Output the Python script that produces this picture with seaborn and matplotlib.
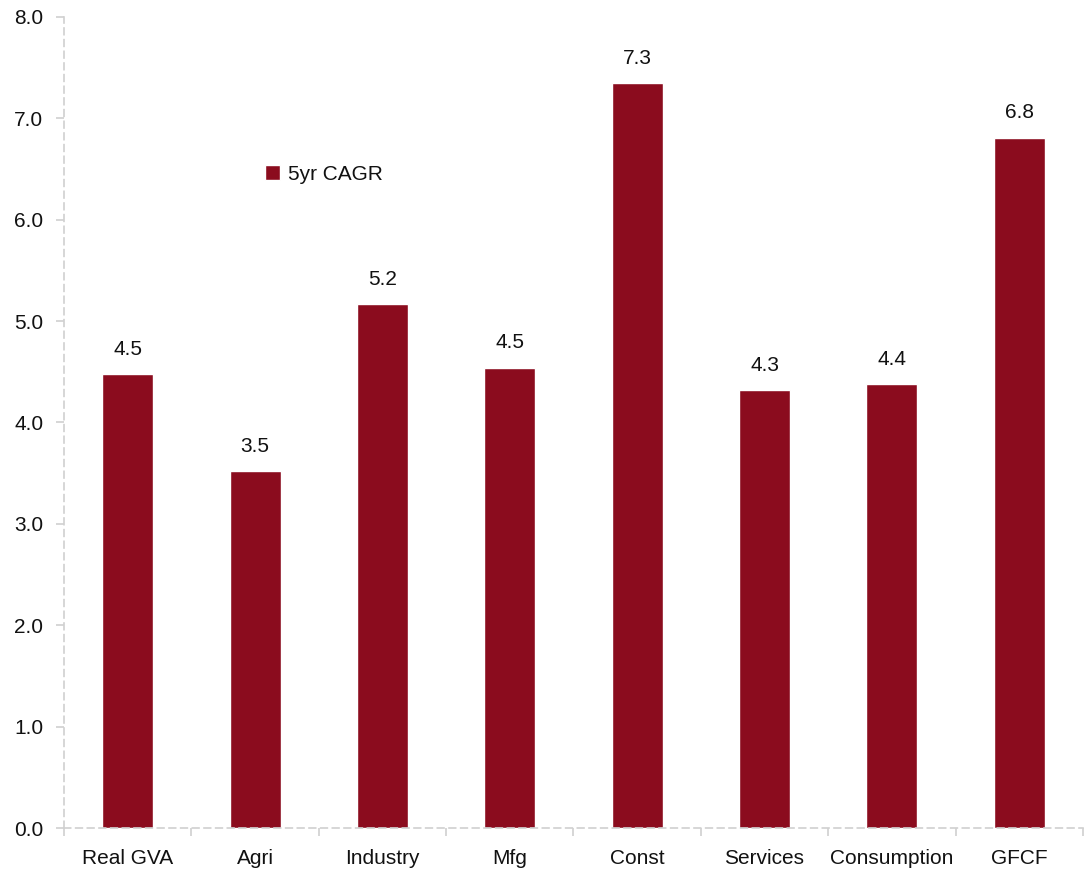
import numpy as np
import pandas as pd
import matplotlib
matplotlib.use('Agg')
import matplotlib.pyplot as plt
import seaborn as sns

# values
categories = ['Real GVA', 'Agri', 'Industry', 'Mfg', 'Const', 'Services', 'Consumption', 'GFCF']
cagr = [4.48, 3.52, 5.17, 4.54, 7.35, 4.32, 4.38, 6.81]
series_name = '5yr CAGR'

df = pd.DataFrame({'category': categories, 'value': cagr, 'series': series_name})

sns.set_style('white')
plt.rcParams['font.family'] = ['Liberation Sans', 'DejaVu Sans']

fig = plt.figure(figsize=(10.84, 8.73), dpi=100)
ax = fig.add_axes([64 / 1084, 1 - 828 / 873, 1 - 64 / 1084 - 0.001, (828 - 17) / 873])

bar_color = '#8B0C1E'
sns.barplot(data=df, x='category', y='value', hue='series', palette=[bar_color],
            width=0.4, ax=ax, saturation=1)

for p, v in zip(ax.patches, cagr):
    ax.annotate(f'{v:.1f}', (p.get_x() + p.get_width() / 2, v),
                xytext=(0, 11), textcoords='offset points',
                ha='center', va='bottom', fontsize=15, color='#111111')

ax.set_ylim(0, 8)
ax.set_xlim(-0.5, len(categories) - 0.5)
ax.set_yticks(np.arange(0, 8.1, 1))
ax.set_yticklabels([f'{t:.1f}' for t in np.arange(0, 8.1, 1)])
ax.set_xlabel('')
ax.set_ylabel('')

# dashed light grey axis lines
for side in ['top', 'right']:
    ax.spines[side].set_visible(False)
for side in ['left', 'bottom']:
    ax.spines[side].set_color('#D0D0D0')
    ax.spines[side].set_linestyle((0, (4, 3)))
    ax.spines[side].set_linewidth(1.2)

# y ticks as small marks, x ticks at category boundaries
ax.tick_params(axis='y', which='major', length=6, color='#D0D0D0', width=1.2,
               labelsize=15, pad=9, left=True, labelcolor='#111111')
ax.tick_params(axis='x', which='major', length=0, labelsize=15, pad=15, labelcolor='#111111')
ax.set_xticks(np.arange(-0.5, len(categories), 1), minor=True)
ax.tick_params(axis='x', which='minor', length=6, color='#D0D0D0', width=1.2, bottom=True)

leg = ax.legend(loc='upper left', bbox_to_anchor=(0.179, 0.841), frameon=False,
                fontsize=15, handlelength=0.7, handleheight=0.7, handletextpad=0.4)
for t in leg.get_texts():
    t.set_color('#111111')

fig.savefig('out.png', dpi=100)
